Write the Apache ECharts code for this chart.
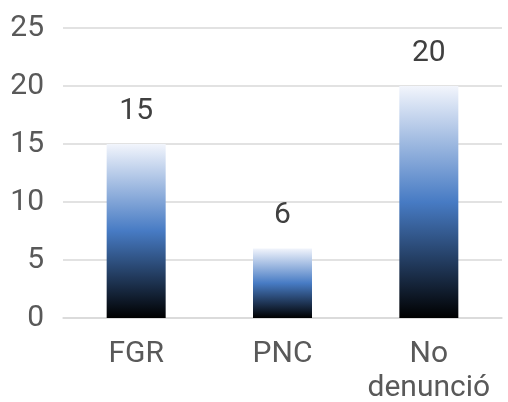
<!DOCTYPE html>
<html><head><meta charset="utf-8">
<script src="https://cdn.jsdelivr.net/npm/echarts@6/dist/echarts.min.js"></script>
<style>html,body{margin:0;padding:0;background:#fff}#c{width:508px;height:402px}</style>
</head><body><div id="c"></div>
<script>
const categories = ['FGR', 'PNC', 'No\ndenunció'];
const values = [15, 6, 20];
const yTicks = [0, 5, 10, 15, 20, 25];

const chart = echarts.init(document.getElementById('c'));
const grad = new echarts.graphic.LinearGradient(0, 0, 0, 1, [
  {offset: 0, color: '#f2f5fc'},
  {offset: 0.5, color: '#477bc4'},
  {offset: 1, color: '#000000'}
]);
chart.setOption({
  animation: false,
  grid: {left: 63, right: 6, top: 28, bottom: 84, outerBoundsMode: 'none', containLabel: false},
  xAxis: {
    type: 'category', data: categories,
    axisLine: {lineStyle: {color: '#d9d9d9', width: 1.5}},
    axisTick: {show: false},
    axisLabel: {interval: 0, hideOverlap: false, color: '#595959', fontSize: 30, fontFamily: 'Roboto', margin: 19, lineHeight: 34}
  },
  yAxis: {
    type: 'value', min: yTicks[0], max: yTicks[yTicks.length - 1], interval: 5,
    axisLine: {show: false}, axisTick: {show: false},
    splitLine: {lineStyle: {color: '#d9d9d9', width: 1.5}},
    axisLabel: {color: '#595959', fontSize: 30, fontFamily: 'Roboto', margin: 19}
  },
  series: [{
    type: 'bar', data: values, barWidth: 59,
    itemStyle: {color: grad},
    label: {show: true, position: 'top', distance: 18, color: '#404040', fontSize: 30, fontFamily: 'Roboto'}
  }]
});
</script></body></html>
